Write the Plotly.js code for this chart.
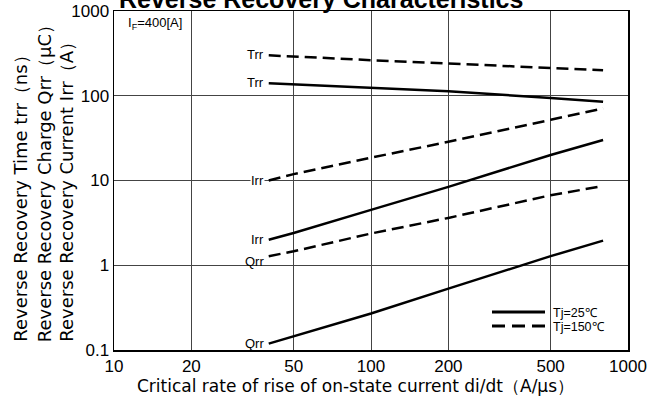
<!DOCTYPE html>
<html><head><meta charset="utf-8">
<script src="https://cdn.plot.ly/plotly-3.0.1.min.js"></script>
<style>html,body{margin:0;padding:0;background:#fff;}#chart{width:663px;height:406px;}</style>
</head><body><div id="chart"></div>
<script>
const diDt = [40, 50, 100, 200, 500, 800];
const trr25 = [140, 136, 125, 113, 94, 85];
const trr150 = [300, 290, 263, 240, 215, 200];
const irr25 = [2.0, 2.4, 4.5, 8.4, 20, 30];
const irr150 = [10, 11.9, 18.6, 28.6, 52, 71];
const qrr25 = [0.119, 0.145, 0.27, 0.53, 1.28, 1.95];
const qrr150 = [1.28, 1.46, 2.37, 3.62, 6.7, 8.6];
const xTicks = [10, 20, 50, 100, 200, 500, 1000];
const yTicks = [0.1, 1, 10, 100, 1000];
const yTickText = ['0.1', '1', '10', '100', '1000'];
const legendNames = ['Tj=25℃', 'Tj=150℃'];

const FONT = 'Liberation Sans, Arial, sans-serif';
const WIDE = 'DejaVu Sans, sans-serif';
const solid = {color: '#000', width: 2.5, dash: 'solid'};
const dashed = {color: '#000', width: 2.5, dash: '12px,6px'};

function tr(y, line) {
  return {x: diDt, y: y, mode: 'lines', line: line,
          showlegend: false, hoverinfo: 'skip', type: 'scatter'};
}
const data = [
  tr(trr25, solid), tr(trr150, dashed),
  tr(irr25, solid), tr(irr150, dashed),
  tr(qrr25, solid), tr(qrr150, dashed)
];

function lab(text, yv, ys, bg) {
  return {text: text, xref: 'x', yref: 'y', x: Math.log10(diDt[0]), y: Math.log10(yv),
          xanchor: 'right', yanchor: 'middle', xshift: -4, yshift: ys || 0,
          showarrow: false, font: {family: FONT, size: 13, color: '#000'},
          bgcolor: bg || 'rgba(0,0,0,0)', borderpad: 0};
}
function ytitle(text, px) {
  return {text: text, xref: 'paper', yref: 'paper', x: (px - 114) / 514, y: 0.02,
          xanchor: 'center', yanchor: 'bottom', textangle: -90, showarrow: false,
          font: {family: WIDE, size: 18, color: '#000'}, borderpad: 0};
}
const px2x = p => (p - 114) / 514;
const px2y = p => (350 - p) / 339;

const layout = {
  width: 663, height: 406,
  margin: {l: 114, r: 35, t: 11, b: 56},
  paper_bgcolor: '#fff', plot_bgcolor: '#fff',
  font: {family: FONT, color: '#000'},
  showlegend: false,
  xaxis: {type: 'log', range: [1, 3], tickvals: xTicks, ticktext: xTicks.map(String),
          showgrid: true, gridcolor: '#444', gridwidth: 1, zeroline: false,
          showline: true, linecolor: '#000', linewidth: 1.5, mirror: true, ticks: '',
          tickfont: {family: FONT, size: 17, color: '#000'}},
  yaxis: {type: 'log', range: [-1, 3], tickvals: yTicks, ticktext: yTickText,
          showgrid: true, gridcolor: '#444', gridwidth: 1, zeroline: false,
          showline: true, linecolor: '#000', linewidth: 1.5, mirror: true, ticks: '',
          tickfont: {family: FONT, size: 17, color: '#000'}},
  shapes: [
    {type: 'line', xref: 'paper', yref: 'paper', x0: px2x(492), x1: px2x(545),
     y0: px2y(312), y1: px2y(312), line: {color: '#000', width: 3}},
    {type: 'line', xref: 'paper', yref: 'paper', x0: px2x(492), x1: px2x(545),
     y0: px2y(326), y1: px2y(326), line: {color: '#000', width: 3, dash: '13px,7px'}}
  ],
  annotations: [
    {text: '<b>Reverse Recovery Characteristics</b>', xref: 'paper', yref: 'paper',
     x: px2x(321), y: 1, xanchor: 'center', yanchor: 'bottom', yshift: -4,
     showarrow: false, font: {family: FONT, size: 25, color: '#000'}},
    {text: 'Critical rate of rise of on-state current di/dt（A/μs）', xref: 'paper', yref: 'paper',
     x: px2x(355), y: px2y(386), xanchor: 'center', yanchor: 'middle', showarrow: false,
     borderpad: 0, font: {family: WIDE, size: 17, color: '#000'}},
    {text: 'I<sub>F</sub>=400[A]', xref: 'paper', yref: 'paper', x: px2x(126), y: px2y(24),
     xanchor: 'left', yanchor: 'middle', showarrow: false,
     font: {family: FONT, size: 13, color: '#000'}},
    {text: legendNames[0], xref: 'paper', yref: 'paper', x: px2x(552), y: px2y(313),
     xanchor: 'left', yanchor: 'middle', showarrow: false, borderpad: 0,
     font: {family: FONT, size: 12.5, color: '#000'}},
    {text: legendNames[1], xref: 'paper', yref: 'paper', x: px2x(552), y: px2y(327),
     xanchor: 'left', yanchor: 'middle', showarrow: false, borderpad: 0,
     font: {family: FONT, size: 12.5, color: '#000'}},
    ytitle('Reverse Recovery Time trr（ns）', 21),
    ytitle('Reverse Recovery Charge Qrr（μC）', 44),
    ytitle('Reverse Recovery Current Irr（A）', 67),
    lab('Trr', trr150[0], 1),
    lab('Trr', trr25[0], 1),
    lab('Irr', irr150[0], 0, '#fff'),
    lab('Irr', irr25[0], 0),
    lab('Qrr', qrr150[0], -5),
    lab('Qrr', qrr25[0], 0)
  ]
};
Plotly.newPlot('chart', data, layout, {displayModeBar: false, staticPlot: true});
</script></body></html>
